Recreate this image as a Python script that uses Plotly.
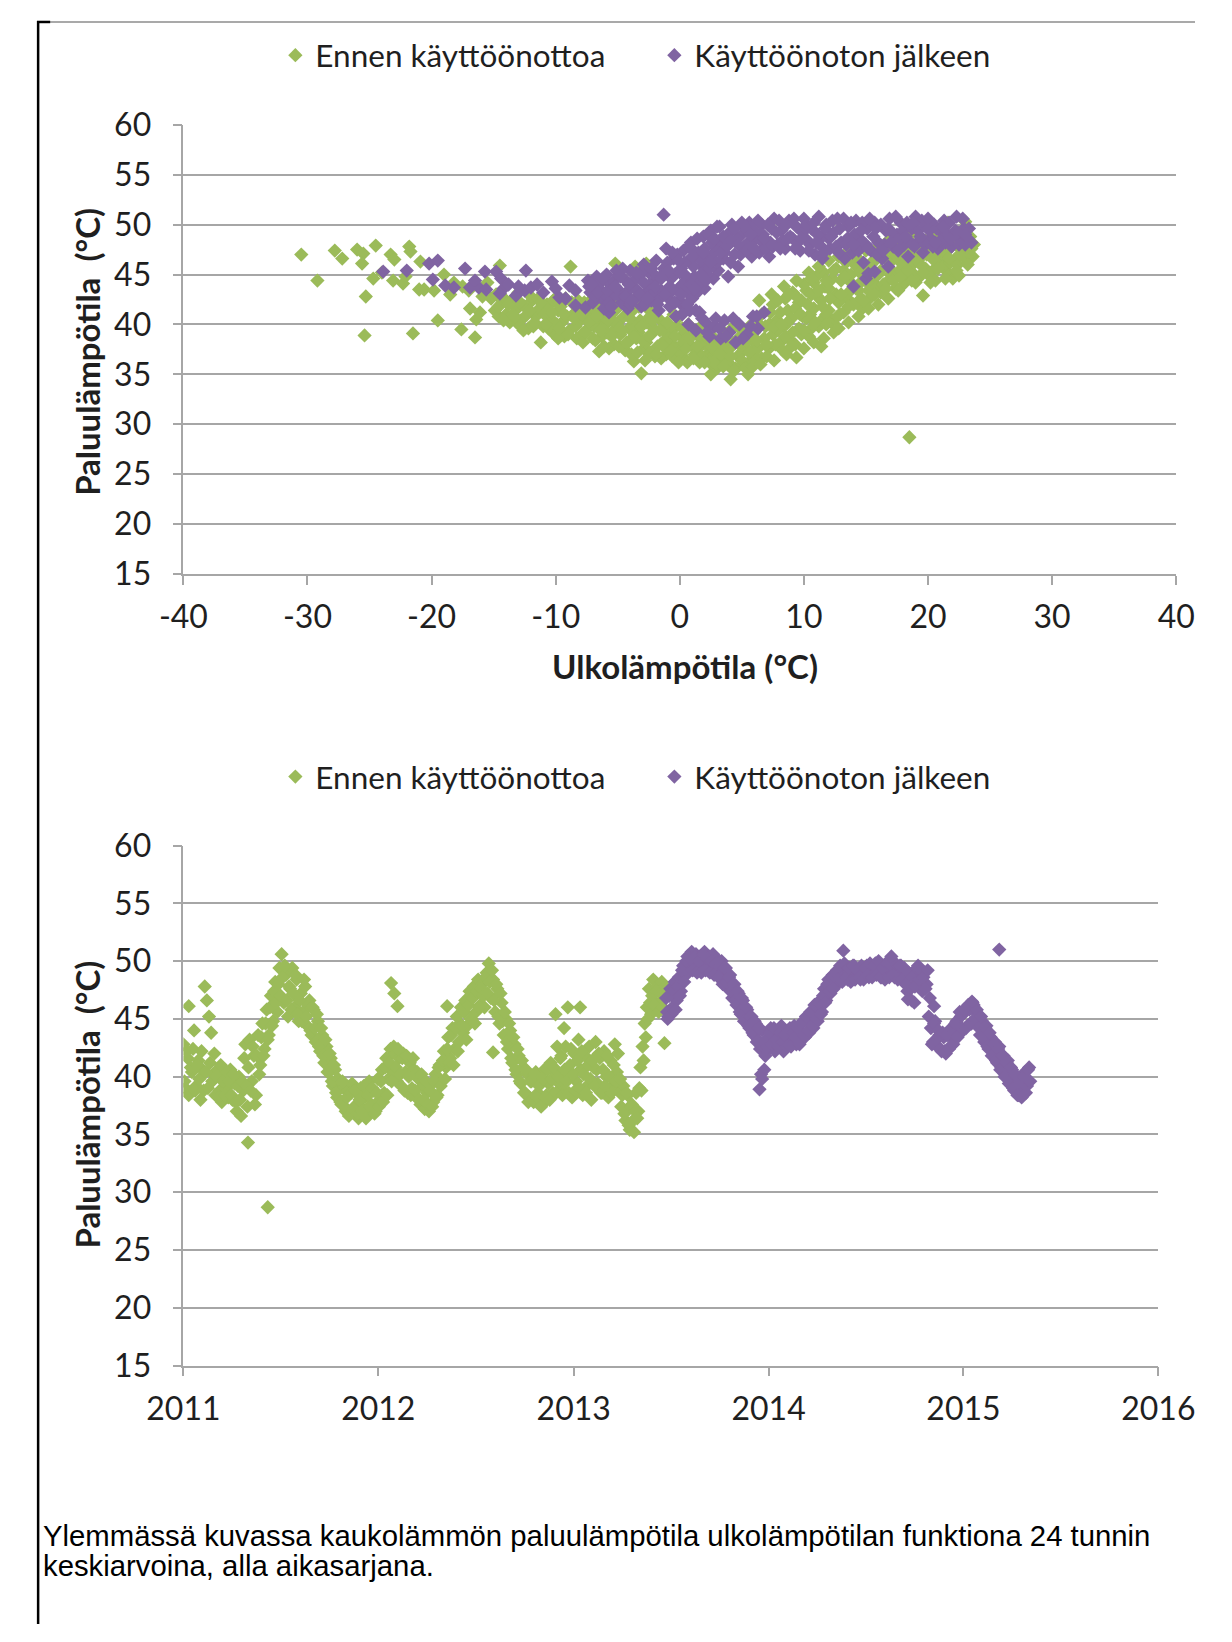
import pandas as pd
import plotly.graph_objects as go

GREEN = "#9BBB59"
PURPLE = "#8064A2"
GRID = "#A6A6A6"
TXT = "#1f1f1f"

name_before = "Ennen käyttöönottoa"
name_after = "Käyttöönoton jälkeen"
ytitle = "Paluulämpötila  (°C)"
xtitle = "Ulkolämpötila (°C)"
caption_lines = ["Ylemmässä kuvassa kaukolämmön paluulämpötila ulkolämpötilan funktiona 24 tunnin",
                 "keskiarvoina, alla aikasarjana."]
x_ticks = [-40, -30, -20, -10, 0, 10, 20, 30, 40]
x_tick_labels = ["-40", "-30", "-20", "-10", "0", "10", "20", "30", "40"]
year_labels = ["2011", "2012", "2013", "2014", "2015", "2016"]

# ---------- upper chart: outdoor temperature (x) vs return temperature (y) ----------
sc_before = [
    (-30.5, 47.0), (-29.2, 44.4), (-27.8, 47.4), (-27.2, 46.6), (-26.0, 47.5), (-25.5, 47.1),
    (-25.6, 46.1), (-25.3, 42.8), (-25.4, 38.9), (-24.5, 47.9), (-24.7, 44.6), (-23.3, 47.0),
    (-23.0, 46.5), (-23.1, 44.4), (-22.3, 44.1), (-22.1, 44.8), (-21.8, 47.8), (-21.7, 47.3),
    (-21.5, 39.1), (-20.9, 46.3), (-20.6, 43.5), (-21.0, 43.5), (-19.5, 40.4), (-18.5, 43.0),
    (-17.6, 39.5), (-16.9, 41.6), (-16.4, 40.5), (-16.5, 38.7), (-14.5, 45.9), (-18.2, 44.2),
    (-17.0, 43.4), (-15.9, 42.8), (-16.1, 41.2), (-19.0, 45.0), (-24.0, 45.2),
    (-17.5, 43.8), (-15.5, 44.2), (-19.8, 43.4),
    (-15.2, 42.6), (-14.9, 41.4), (-14.6, 40.8), (-14.3, 42.2), (-14.0, 41.0), (-13.7, 40.2),
    (-13.4, 42.6), (-13.1, 41.6), (-12.8, 40.4), (-12.5, 41.8), (-12.2, 39.6), (-11.9, 42.4),
    (-11.6, 40.8), (-11.3, 41.6), (-11.2, 38.2), (-11.0, 39.8), (-10.7, 42.0), (-10.4, 40.6),
    (-10.1, 39.0), (-9.8, 41.4), (-9.5, 40.2), (-9.2, 42.6), (-8.9, 39.4), (-8.6, 41.0),
    (-8.3, 38.6), (-8.0, 40.4), (-7.7, 42.2), (-7.4, 39.6), (-7.1, 41.6), (-6.8, 38.4),
    (-6.5, 40.6), (-6.5, 37.3), (-6.2, 42.0), (-5.9, 39.2), (-5.6, 41.0), (-5.3, 38.0),
    (-5.0, 40.2), (-4.7, 42.2), (-4.4, 37.4), (-4.1, 39.6), (-3.8, 41.4), (-3.5, 38.6),
    (-3.7, 36.3), (-3.2, 40.4), (-3.1, 35.1), (-2.9, 37.6), (-2.6, 41.6), (-2.3, 39.0),
    (-2.0, 36.8), (-1.7, 40.6), (-1.4, 38.2), (-1.1, 37.0), (-0.8, 39.6), (-0.5, 41.0),
    (-0.2, 37.6), (0.1, 38.8), (0.4, 36.6), (0.7, 40.0), (1.0, 37.8), (1.3, 39.2),
    (1.6, 36.2), (1.9, 38.4), (2.2, 37.0), (2.5, 35.0), (2.8, 38.6), (3.1, 36.4),
    (3.4, 39.4), (3.7, 37.4), (4.0, 35.8), (4.1, 34.5), (4.4, 38.2), (4.7, 36.8),
    (5.0, 39.4), (5.3, 37.6), (5.5, 35.0), (5.8, 38.6), (6.1, 36.8), (6.4, 40.0),
    (-14.8, 43.0), (-13.0, 43.2), (-12.0, 42.8), (-9.9, 40.0), (-9.3, 38.8), (-7.9, 39.0),
    (-6.0, 40.0), (-5.2, 39.6), (-4.5, 40.8), (-4.0, 38.4), (-3.3, 39.2), (-2.7, 38.2),
    (-2.4, 40.8), (-1.8, 37.8), (-1.0, 39.0), (-0.6, 38.0), (0.0, 40.8), (0.5, 39.0),
    (1.5, 37.6), (2.0, 39.6), (2.6, 36.8), (3.0, 38.0), (3.6, 36.6), (4.2, 39.6),
    (4.8, 38.0), (5.6, 39.8), (6.0, 37.6),
    (-3.6, 45.8), (-2.7, 46.1), (-5.2, 46.1), (-3.5, 45.6), (-8.8, 45.8),
    (-14.0, 42.4), (-13.5, 41.0), (-13.0, 40.0), (-12.7, 42.0), (-12.3, 41.0), (-11.8, 39.8),
    (-11.4, 42.6), (-10.9, 41.0), (-10.6, 39.6), (-10.2, 42.4), (-9.8, 38.6), (-9.6, 41.8),
    (-9.1, 40.8), (-8.7, 42.2), (-8.4, 39.8), (-8.1, 41.6), (-7.8, 38.2), (-7.5, 40.8),
    (-7.2, 42.4), (-6.9, 39.8), (-6.6, 41.8), (-6.3, 38.8), (-6.0, 41.2), (-5.7, 37.6),
    (-5.4, 40.4), (-5.1, 42.0), (-4.8, 39.0), (-4.5, 37.8), (-4.2, 41.0), (-3.9, 37.0),
    (-3.6, 39.8), (-3.3, 41.8), (-3.0, 38.4), (-2.7, 40.2), (-2.4, 37.2), (-2.1, 39.6),
    (-1.8, 41.4), (-1.5, 36.6), (-1.2, 40.0), (-0.9, 38.6), (-0.6, 36.8), (-0.3, 39.8),
    (0.0, 37.2), (0.3, 38.2), (0.6, 36.2), (0.9, 39.4), (1.2, 37.0), (1.5, 38.8),
    (1.8, 36.8), (2.1, 38.0), (2.4, 36.2), (2.7, 37.6), (3.0, 35.6), (3.3, 37.0),
    (3.6, 38.6), (3.9, 36.2), (4.2, 37.8), (4.5, 35.6), (4.8, 37.0), (5.1, 36.0),
    (5.4, 38.2), (5.7, 36.4), (6.0, 39.2), (6.3, 37.6), (6.6, 36.6), (6.9, 39.8),
    (7.2, 37.6), (7.5, 39.0), (7.8, 40.4), (8.1, 38.2), (8.4, 39.8), (8.7, 41.4),
    (9.0, 40.6), (9.3, 38.0), (9.6, 42.2), (9.9, 40.8), (10.2, 43.4), (10.5, 41.0),
    (10.8, 44.2), (11.1, 42.8), (11.4, 40.4), (11.7, 43.8), (12.0, 41.4), (12.3, 44.6),
    (12.6, 43.0), (12.9, 41.0), (13.2, 45.4), (13.5, 42.6), (13.8, 44.2), (14.1, 46.0),
    (14.4, 43.4), (14.7, 41.6), (15.0, 45.8), (15.3, 42.6), (15.6, 44.2), (15.9, 46.6),
    (16.2, 43.2), (16.5, 47.4), (16.8, 44.4), (17.1, 46.4), (17.4, 48.2), (17.7, 45.4),
    (18.0, 44.0), (18.3, 46.0), (18.6, 47.8), (18.9, 45.0), (19.2, 44.6), (19.5, 46.8),
    (19.8, 45.6), (20.1, 47.6), (20.4, 45.4), (20.7, 49.2), (21.0, 46.4), (21.3, 48.4),
    (21.6, 45.2), (21.9, 47.8), (22.2, 46.6), (22.5, 49.2), (22.8, 48.0), (23.1, 47.8),
    (23.4, 48.8), (23.6, 46.8),
    (6.6, 41.0), (6.8, 38.6), (7.0, 36.8), (7.2, 40.0), (7.5, 42.0), (7.7, 38.0),
    (7.9, 39.4), (8.1, 41.2), (8.3, 37.4), (8.5, 42.6), (8.7, 40.2), (8.9, 38.4),
    (9.1, 43.2), (9.3, 41.6), (9.4, 36.7), (9.6, 39.6), (9.8, 42.4), (10.0, 44.0),
    (10.2, 40.6), (10.4, 38.8), (10.6, 43.0), (10.8, 41.6), (11.0, 44.8), (11.2, 39.8),
    (11.4, 42.4), (11.6, 45.2), (11.8, 41.0), (12.0, 43.6), (12.2, 40.2), (12.4, 39.2),
    (12.6, 45.6), (12.8, 42.2), (13.0, 44.4), (13.2, 41.2), (13.4, 46.2), (13.6, 43.2),
    (13.8, 45.0), (14.0, 42.0), (14.2, 46.8), (14.4, 44.0), (14.6, 42.6), (14.8, 45.6),
    (15.0, 47.4), (15.2, 43.4), (15.4, 44.8), (15.6, 46.4), (15.8, 43.8), (16.0, 47.8),
    (16.2, 45.4), (16.4, 44.0), (16.6, 46.6), (16.8, 48.4), (17.0, 45.0), (17.2, 47.2),
    (17.4, 43.6), (17.6, 43.4), (17.8, 46.2), (18.0, 48.6), (18.2, 44.6), (18.4, 47.0),
    (18.6, 45.8), (18.5, 28.7), (18.8, 49.2), (19.0, 44.2), (19.2, 47.6), (19.4, 46.0),
    (19.6, 42.9), (19.8, 48.4), (20.0, 45.0), (20.2, 50.0), (20.4, 46.8), (20.6, 44.4),
    (20.8, 48.0), (21.0, 49.6), (21.2, 45.8), (21.4, 47.2), (21.6, 50.2), (21.8, 46.2),
    (22.0, 44.6), (22.2, 48.6), (22.5, 44.9), (22.7, 47.4), (23.0, 50.3), (23.0, 46.6),
    (23.2, 48.6), (23.4, 47.0), (23.7, 48.0), (22.4, 46.0),
    (6.4, 42.4), (7.4, 43.0), (8.4, 43.8), (9.4, 44.4), (10.4, 45.2), (11.2, 45.8),
    (12.0, 46.4), (12.8, 46.8), (13.6, 47.4), (14.4, 47.8),
    (7.6, 36.4), (8.6, 37.0), (9.0, 37.8), (10.0, 37.6), (10.8, 38.2), (11.6, 38.6),
    (11.4, 37.8), (12.8, 39.6), (13.6, 40.2), (14.4, 40.8), (15.2, 41.6), (16.0, 42.0),
    (16.8, 42.6), (10.6, 39.6), (11.8, 40.0), (9.8, 39.0),
    (-14.6, 41.8), (-14.2, 40.4), (-13.8, 42.0), (-13.3, 40.8), (-12.9, 42.2), (-12.6, 39.4),
    (-12.1, 41.4), (-11.7, 40.2), (-11.2, 42.2), (-10.8, 40.0), (-10.3, 41.2), (-10.0, 42.6),
    (-9.7, 39.6), (-9.3, 41.0), (-9.0, 39.0), (-8.5, 40.6), (-8.2, 42.4), (-7.9, 41.0),
    (-7.6, 39.2), (-7.3, 40.2), (-7.0, 38.6), (-6.7, 40.8), (-6.4, 39.4), (-6.1, 37.8),
    (-5.8, 40.4), (-5.5, 38.8), (-5.2, 41.4), (-4.9, 37.8), (-4.6, 39.4), (-4.3, 38.2),
    (-4.0, 40.6), (-3.7, 38.8), (-3.4, 37.2), (-3.1, 39.8), (-2.8, 36.4), (-2.5, 38.8),
    (-2.2, 40.4), (-1.9, 37.0), (-1.6, 39.4), (-1.3, 37.8), (-1.0, 40.2), (-0.7, 37.4),
    (-0.4, 38.8), (-0.1, 36.2), (0.2, 39.6), (0.5, 37.6), (0.8, 38.6), (1.1, 36.6),
    (1.4, 37.8), (1.7, 39.8), (2.0, 36.2), (2.3, 38.6), (2.6, 37.8), (2.9, 36.0),
    (3.2, 38.2), (3.5, 35.8), (3.8, 37.8), (4.1, 36.8), (4.4, 35.4), (4.7, 38.6),
    (5.0, 36.4), (5.3, 35.6), (5.6, 37.2), (5.9, 35.8), (6.2, 38.4), (6.5, 36.0),
    (7.0, 38.0), (7.3, 41.2), (7.6, 39.8), (7.9, 42.4), (8.2, 40.0), (8.5, 38.8),
    (8.8, 43.0), (9.1, 39.2), (9.4, 42.8), (9.7, 41.0), (10.0, 39.4), (10.3, 42.0),
    (10.6, 44.6), (10.9, 40.2), (11.2, 43.4), (11.5, 41.8), (11.8, 44.4), (12.1, 42.6),
    (12.4, 45.4), (12.7, 40.8), (13.0, 43.0), (13.3, 44.8), (13.6, 41.8), (13.9, 46.6),
    (14.2, 43.6), (14.5, 45.2), (14.8, 42.4), (15.1, 44.2), (15.4, 46.0), (15.7, 43.0),
    (16.0, 45.0), (16.3, 46.8), (16.6, 43.6), (16.9, 45.6), (17.2, 44.4), (17.5, 46.8),
    (17.8, 44.8), (18.1, 47.4), (18.4, 45.4), (18.7, 44.4), (19.0, 46.6), (19.3, 48.2),
    (19.6, 45.2), (19.9, 47.0), (20.2, 44.2), (20.5, 46.4), (20.8, 45.6), (21.1, 47.4),
    (21.4, 44.6), (21.7, 46.6), (22.0, 48.0), (22.3, 45.4), (22.6, 47.0), (22.9, 49.0),
    (23.2, 46.0), (23.5, 47.6),
]

sc_after = [
    (-23.9, 45.3), (-22.0, 45.4), (-20.2, 46.1), (-19.5, 46.4), (-19.9, 44.5), (-18.9, 43.9),
    (-18.2, 43.7), (-17.3, 45.6), (-16.9, 43.7), (-16.2, 43.7), (-15.7, 45.3), (-15.6, 43.5),
    (-14.8, 45.3), (-14.4, 44.6), (-14.2, 43.6), (-14.5, 43.1), (-13.2, 42.9), (-12.5, 43.4),
    (-12.4, 45.4), (-12.0, 43.7), (-10.3, 44.3), (-9.7, 42.7), (-8.9, 43.9), (-8.4, 43.4),
    (-8.4, 41.9), (-7.6, 41.7), (-5.7, 41.2), (-13.8, 44.0), (-11.0, 43.2),
    (-7.4, 44.4), (-7.2, 43.2), (-7.0, 42.2), (-6.7, 44.8), (-6.5, 43.6), (-6.3, 42.6),
    (-6.1, 41.6), (-5.9, 45.0), (-5.6, 44.0), (-5.4, 42.8), (-5.1, 45.4), (-4.9, 43.4),
    (-4.7, 42.2), (-4.5, 44.6), (-4.2, 41.6), (-4.0, 45.4), (-3.8, 43.8), (-3.6, 42.6),
    (-3.3, 44.8), (-3.1, 41.8), (-2.9, 46.0), (-2.7, 43.2), (-2.5, 45.2), (-2.3, 42.4),
    (-2.1, 44.2), (-1.9, 46.4), (-1.7, 41.4), (-1.5, 43.4), (-1.3, 45.6), (-1.3, 51.0),
    (-1.1, 47.6), (-0.9, 42.6), (-0.7, 44.6), (-0.5, 46.6), (-0.3, 40.8), (-0.1, 43.6),
    (0.1, 45.6), (0.3, 47.4), (0.3, 41.8), (0.5, 44.4), (0.7, 40.0), (0.8, 46.4),
    (0.9, 48.2), (1.0, 42.6), (1.2, 44.8), (1.3, 39.4), (1.5, 47.2), (1.6, 41.2),
    (1.8, 45.8), (1.9, 48.8), (2.0, 43.6), (2.1, 40.2), (2.3, 46.6), (2.4, 38.8),
    (2.5, 49.4), (2.7, 44.6), (2.8, 39.8), (2.9, 47.8), (3.1, 45.4), (3.2, 49.8),
    (3.3, 38.6), (3.5, 46.6), (3.6, 40.4), (3.8, 48.6), (3.9, 44.8), (4.0, 39.2),
    (4.2, 50.0), (4.4, 47.0), (4.5, 38.2), (4.7, 45.8), (4.8, 40.0), (5.0, 49.0),
    (5.2, 47.8), (5.4, 39.0), (5.6, 50.2), (5.8, 46.8), (5.9, 40.8), (6.1, 48.6),
    (6.3, 39.6), (6.4, 47.2), (6.6, 50.0), (6.8, 41.2), (7.0, 48.4), (7.2, 46.8),
    (7.4, 49.6), (7.6, 50.6), (7.9, 48.0), (8.2, 49.4), (8.5, 47.6), (8.8, 50.4),
    (9.1, 48.6), (9.4, 49.8), (9.7, 47.4), (10.0, 50.6), (10.3, 48.4), (10.6, 49.6),
    (10.9, 47.0), (11.2, 50.8), (11.5, 46.6), (11.5, 48.8), (11.8, 50.0), (12.1, 47.6),
    (12.4, 49.2), (12.7, 50.6), (13.0, 48.2), (13.3, 46.6), (13.6, 49.8), (13.9, 47.2),
    (14.0, 43.8), (14.2, 50.4), (14.5, 48.6), (14.8, 46.2), (15.0, 44.6), (15.2, 45.1),
    (15.1, 49.6), (15.4, 47.4), (15.7, 50.2), (15.7, 45.3), (16.0, 48.2), (16.3, 46.6),
    (16.6, 49.4), (16.8, 45.8), (16.9, 50.6), (17.2, 47.8), (17.5, 49.0), (17.8, 50.2),
    (18.1, 48.0), (18.4, 46.8), (18.7, 49.6), (19.0, 50.8), (19.3, 48.4), (19.6, 47.2),
    (19.9, 49.8), (20.2, 48.6), (20.5, 50.0), (20.8, 47.6), (21.1, 49.2), (21.4, 48.2),
    (21.7, 50.2), (22.0, 49.0), (22.3, 50.8), (22.6, 48.4), (22.9, 49.6), (23.2, 48.6),
    (23.5, 48.2), (22.8, 50.6),
    (-0.4, 45.0), (0.0, 42.4), (0.6, 43.2), (1.1, 45.8), (1.4, 43.2), (1.7, 46.4),
    (2.2, 45.0), (2.6, 47.0), (0.2, 44.0), (-0.8, 43.8),
    (-7.3, 43.8), (-6.8, 42.8), (-6.4, 44.2), (-6.0, 43.0), (-5.7, 42.2), (-5.3, 44.4),
    (-5.0, 43.0), (-4.6, 45.6), (-4.3, 43.2), (-4.0, 42.0), (-3.7, 44.4), (-3.4, 43.4),
    (-3.0, 45.4), (-2.8, 42.0), (-2.4, 44.0), (-2.2, 43.0), (-1.9, 44.8), (-1.6, 42.6),
    (-1.4, 45.0), (-1.0, 46.2), (-0.8, 41.8), (-0.6, 43.4), (-0.2, 47.0), (0.0, 45.2),
    (0.2, 41.0), (0.4, 46.2), (0.6, 42.0), (0.9, 44.0), (1.1, 47.4), (1.3, 41.4),
    (1.6, 44.2), (1.8, 40.6), (2.0, 47.6), (2.2, 39.2), (2.4, 45.6), (2.6, 48.2),
    (2.9, 40.6), (3.0, 46.2), (3.2, 39.6), (3.4, 48.2), (3.6, 47.2), (3.7, 38.8),
    (4.0, 49.2), (4.1, 46.2), (4.3, 40.6), (4.6, 48.6), (4.9, 47.0), (5.1, 38.6),
    (5.3, 49.6), (5.5, 48.2), (5.7, 39.8), (6.0, 49.4), (6.2, 40.8), (6.5, 48.4),
    (6.7, 49.0), (6.9, 47.6), (7.1, 50.0), (7.3, 48.2), (7.8, 49.2), (8.0, 50.4),
    (8.3, 48.4), (8.6, 50.0), (8.9, 48.8), (9.2, 50.6), (9.5, 48.2), (9.9, 49.2),
    (10.2, 50.0), (10.5, 48.0), (10.8, 50.2), (11.1, 49.0), (11.4, 47.8), (11.7, 49.6),
    (12.0, 48.6), (12.3, 50.4), (12.6, 47.8), (12.9, 49.6), (13.2, 50.6), (13.5, 48.6),
    (13.8, 50.2), (14.1, 49.0), (14.4, 47.4), (14.7, 50.2), (15.0, 48.0), (15.3, 50.6),
    (15.6, 48.8), (15.9, 47.0), (16.2, 50.0), (16.5, 48.0), (16.8, 49.6), (17.1, 49.2),
    (17.4, 50.8), (17.7, 48.6), (18.0, 49.4), (18.3, 50.2), (18.6, 48.2), (18.9, 47.8),
    (19.2, 49.4), (19.5, 50.4), (19.8, 48.0), (20.1, 49.4), (20.4, 47.8), (20.7, 49.6),
    (21.0, 48.4), (21.3, 50.4), (21.6, 49.0), (21.9, 47.8), (22.2, 49.4), (22.5, 48.0),
    (23.0, 48.0), (23.3, 49.6),
    (-7.1, 44.0), (-6.6, 43.2), (-6.2, 44.6), (-5.8, 43.4), (-5.5, 41.8), (-5.2, 43.8),
    (-4.8, 44.8), (-4.4, 42.8), (-4.1, 44.0), (-3.9, 42.4), (-3.5, 45.2), (-3.2, 43.0),
    (-2.9, 44.2), (-2.6, 42.6), (-2.3, 45.6), (-2.0, 43.8), (-1.8, 42.0), (-1.5, 44.6),
    (-1.2, 43.0), (-0.9, 45.4), (-0.6, 47.2), (-0.4, 42.2), (-0.1, 46.4), (0.1, 43.0),
    (0.4, 45.0), (0.7, 47.8), (0.8, 41.4), (1.0, 46.8), (1.2, 43.6), (1.4, 48.6),
    (1.7, 45.0), (1.9, 47.2), (2.1, 44.4), (2.3, 49.0), (2.5, 46.2), (2.8, 48.6),
    (3.0, 49.8), (3.3, 47.2), (3.5, 48.8), (3.8, 47.8), (4.1, 48.4), (4.4, 49.6),
    (4.7, 48.0), (5.0, 50.2), (5.4, 47.4), (5.7, 49.0), (6.0, 47.6), (6.3, 50.4),
    (6.8, 48.6), (7.5, 47.8), (8.1, 47.6), (8.7, 48.6), (9.3, 47.6), (9.8, 48.6),
    (10.4, 47.4), (11.0, 48.2), (11.6, 47.2), (12.2, 48.8), (12.8, 47.2), (13.4, 48.0),
    (14.0, 48.0), (14.6, 49.4), (15.2, 47.6), (15.8, 49.6), (16.4, 47.4), (17.0, 48.2),
    (17.6, 47.4), (18.2, 48.8), (18.8, 50.2), (19.4, 48.8), (20.0, 50.6), (20.6, 48.2),
    (21.2, 49.8), (21.8, 48.6), (22.4, 49.2), (23.0, 49.0), (-10.0, 43.6), (-11.5, 44.0),
    (-9.2, 42.6), (-13.0, 43.8), (-16.5, 44.4),
]

# ---------- lower chart: time series (two interleaved readings every 4 days) ----------
ts_before_start_a = "2011-01-01"
ts_before_a = [
    42.8, 39.0, 41.6, 38.6, 40.4, 44.0, 39.2, 41.4, 38.0, 40.6,
    47.8, 46.6, 45.2, 43.8, 40.2, 38.4, 40.6, 38.8, 37.8, 40.2,
    39.0, 38.2, 40.6, 38.0, 39.4, 37.0, 40.0, 36.6, 38.8, 42.8,
    37.4, 43.2, 39.6, 41.8, 38.4, 43.6, 41.0, 44.6, 42.4, 45.8,
    43.6, 47.0, 44.8, 48.2, 45.6, 49.4, 50.6, 46.4, 48.8, 45.2,
    47.6, 49.4, 46.0, 48.4, 44.8, 47.2, 45.6, 47.8, 44.4, 46.6,
    43.6, 45.8, 43.0, 44.8, 42.2, 43.6, 41.2, 42.6, 40.4, 41.6,
    39.2, 40.6, 38.2, 39.6, 37.6, 39.0, 37.0, 38.8, 36.8, 39.4,
    37.4, 38.6, 36.4, 39.0, 37.2, 38.2, 36.6, 39.6, 37.6, 38.8,
    37.0, 39.8, 38.0, 40.6, 38.6, 41.6, 39.8, 42.4, 40.4, 42.0,
    39.6, 41.6, 39.2, 42.0, 40.4, 38.6, 41.2, 39.0, 40.6, 38.2,
    39.8, 37.6, 39.2, 37.2, 38.6, 37.0, 39.4, 37.8, 40.2, 38.4,
    41.0, 39.6, 42.2, 40.8, 43.4, 41.6, 44.2, 42.4, 45.2, 43.0,
    46.0, 43.8, 46.6, 44.4, 47.4, 45.0, 47.8, 45.6, 48.4, 46.2,
    48.0, 46.0, 49.0, 49.8, 46.8, 48.4, 45.6, 47.6, 44.6, 46.4,
    43.6, 45.0, 42.4, 44.0, 41.2, 42.8, 40.2, 41.8, 39.4, 40.8,
    38.6, 40.2, 38.2, 39.6, 37.8, 40.4, 38.6, 39.8, 37.6, 40.6,
    38.4, 39.4, 41.2, 38.6, 40.4, 42.6, 39.4, 41.8, 38.8, 42.6,
    40.2, 41.0, 38.2, 42.0, 39.6, 43.2, 40.6, 38.4, 41.8, 39.2,
    42.6, 38.0, 40.8, 43.0, 39.4, 41.6, 38.6, 42.2, 40.0, 38.2,
    41.4, 39.2, 42.8, 40.4, 38.8, 37.4, 39.2, 36.2, 38.4, 35.4,
    37.6, 35.2, 38.6, 37.0, 40.8, 42.6, 44.6, 46.0, 47.6, 45.4,
    48.4, 46.4, 47.8, 45.8, 48.2, 46.8,
]
ts_before_start_b = "2011-01-03"
ts_before_b = [
    39.6, 42.2, 38.4, 40.8, 42.4, 38.8, 41.0, 39.8, 42.2, 38.8,
    40.4, 39.0, 41.2, 39.6, 42.0, 40.0, 38.2, 41.0, 39.6, 38.4,
    40.4, 39.6, 38.4, 40.2, 37.8, 39.2, 38.0, 39.6, 41.6, 39.2,
    40.8, 38.8, 42.6, 37.6, 41.8, 40.2, 43.4, 41.8, 44.6, 43.2,
    46.0, 44.4, 47.4, 46.4, 48.0, 47.0, 48.6, 49.6, 46.6, 47.8,
    45.8, 47.2, 48.8, 45.4, 46.6, 44.8, 48.4, 45.2, 46.2, 44.0,
    46.0, 44.2, 45.4, 42.6, 44.2, 41.8, 43.2, 40.4, 42.0, 39.6,
    41.0, 38.6, 39.8, 37.8, 39.6, 37.4, 38.2, 36.6, 38.6, 37.2,
    38.8, 36.8, 38.0, 37.0, 39.2, 36.4, 38.4, 37.4, 39.0, 36.8,
    38.6, 37.4, 39.6, 37.8, 40.8, 38.4, 41.2, 39.6, 42.6, 40.8,
    42.4, 40.2, 41.6, 38.8, 41.8, 40.0, 38.4, 41.6, 38.8, 40.4,
    38.0, 40.2, 38.0, 39.6, 37.6, 38.8, 37.4, 39.6, 38.2, 40.8,
    39.2, 41.4, 39.8, 42.4, 41.2, 43.6, 41.0, 44.2, 42.2, 44.6,
    44.4, 45.6, 43.2, 46.2, 45.0, 46.8, 44.6, 47.4, 46.0, 47.6,
    47.0, 48.6, 47.2, 48.2, 49.2, 46.6, 48.0, 45.2, 47.2, 44.8,
    45.6, 43.0, 44.6, 41.6, 43.4, 40.6, 42.4, 39.6, 41.4, 38.6,
    40.6, 37.8, 39.6, 38.0, 40.2, 38.2, 39.2, 37.4, 39.8, 38.2,
    40.6, 38.0, 39.8, 40.8, 38.6, 40.0, 41.6, 38.4, 40.6, 39.6,
    38.6, 42.4, 40.2, 38.8, 41.4, 39.0, 42.2, 40.2, 38.6, 41.0,
    39.8, 41.4, 39.2, 40.6, 42.0, 38.6, 40.6, 39.2, 41.8, 40.0,
    38.6, 41.0, 39.6, 42.0, 39.8, 38.4, 36.8, 38.6, 35.8, 37.4,
    36.2, 37.0, 36.4, 39.0, 38.8, 41.4, 43.4, 45.0, 46.4, 47.0,
    46.2, 47.4, 45.6, 47.2, 46.0, 47.8,
]
ts_before_extra_days = [10, 121, 158, 389, 395, 401, 494, 580, 697, 713, 720, 743, 901]
ts_before_extra_vals = [46.1, 34.3, 28.7, 48.1, 47.2, 46.1, 46.1, 42.1, 45.4, 44.2, 46.0, 46.0, 42.9]

ts_after_start_a = "2013-06-23"
ts_after_a = [
    46.8, 45.2, 47.6, 46.0, 48.2, 46.6, 48.6, 47.4, 49.6, 48.8,
    50.4, 49.4, 50.8, 49.8, 50.6, 49.2, 50.4, 49.6, 50.8, 49.8,
    50.4, 49.2, 50.6, 49.4, 50.2, 48.8, 50.0, 48.4, 49.4, 47.6,
    48.8, 46.8, 48.0, 46.2, 47.2, 45.4, 46.6, 44.8, 45.8, 44.2,
    45.2, 43.6, 44.6, 43.2, 42.4, 44.0, 40.6, 43.2, 42.4, 44.2,
    43.0, 42.2, 43.8, 42.6, 44.4, 42.2, 43.6, 42.8, 44.2, 43.0,
    44.4, 42.8, 44.0, 43.2, 44.8, 43.4, 45.0, 43.8, 45.4, 44.2,
    46.0, 44.8, 46.6, 45.6, 47.6, 46.6, 48.4, 47.2, 48.8, 47.8,
    49.2, 48.2, 49.4, 48.6, 49.6, 48.4, 49.4, 48.8, 49.6, 48.6,
    49.2, 48.4, 49.4, 48.8, 49.6, 48.6, 49.4, 48.8, 49.8, 49.0,
    49.6, 48.6, 49.2, 48.8, 50.0, 49.2, 49.8, 48.6, 49.4, 48.8,
    49.6, 48.2, 49.2, 47.4, 48.8, 46.6, 49.0, 48.0, 49.6, 48.2,
    47.4, 49.0, 48.0, 45.2, 44.2, 43.0, 44.8, 42.6, 43.6, 42.2,
    43.4, 42.0, 43.6, 42.6, 44.0, 43.2, 44.8, 43.6, 45.2, 44.0,
    45.6, 44.4, 45.8, 44.6, 46.2, 44.8, 45.4, 43.6, 44.8, 43.0,
    44.4, 42.4, 43.4, 41.8, 43.0, 41.2, 42.6, 40.8, 41.8, 40.2,
    41.4, 39.6, 40.6, 38.8, 40.0, 38.4, 39.6, 38.8, 40.4, 39.2,
    40.8,
]
ts_after_start_b = "2013-06-25"
ts_after_b = [
    45.6, 47.0, 45.4, 47.4, 45.8, 47.8, 47.0, 49.2, 48.2, 50.0,
    49.0, 50.2, 49.2, 50.4, 49.0, 50.0, 49.0, 50.6, 49.2, 50.2,
    49.0, 50.0, 48.8, 49.8, 48.6, 49.6, 48.0, 49.4, 48.2, 48.6,
    47.4, 48.0, 46.6, 47.4, 45.6, 46.8, 44.8, 46.0, 44.4, 45.2,
    43.8, 44.8, 43.0, 44.2, 40.2, 42.6, 41.8, 42.6, 43.8, 42.8,
    44.2, 43.2, 42.6, 43.8, 43.0, 43.6, 42.6, 44.0, 42.6, 43.8,
    43.4, 44.2, 42.8, 44.6, 43.6, 45.2, 44.0, 45.6, 44.4, 46.2,
    45.0, 46.4, 45.4, 47.0, 46.4, 48.0, 47.4, 48.6, 47.6, 49.0,
    48.4, 49.6, 48.2, 49.8, 48.6, 49.4, 48.2, 49.6, 48.4, 49.2,
    48.6, 49.6, 48.4, 49.4, 48.8, 49.8, 48.6, 49.6, 48.8, 50.0,
    48.6, 49.4, 48.4, 49.8, 48.6, 49.6, 48.8, 49.8, 48.4, 49.6,
    48.4, 49.4, 48.0, 49.0, 47.6, 48.6, 47.8, 49.4, 48.4, 49.2,
    48.6, 47.6, 49.2, 46.8, 42.8, 44.6, 43.2, 44.0, 42.4, 43.8,
    42.2, 43.6, 42.4, 44.2, 42.8, 44.6, 43.4, 45.6, 44.2, 45.8,
    44.2, 46.2, 44.6, 46.4, 45.0, 45.8, 44.2, 45.2, 43.4, 44.2,
    42.6, 43.8, 41.8, 42.8, 41.4, 42.4, 40.6, 41.8, 40.0, 41.2,
    39.4, 40.8, 39.0, 40.2, 38.4, 39.6, 38.2, 40.0, 38.6, 40.6,
    39.6,
]
ts_after_extra_days = [907, 1079, 1084, 1236, 1326, 1357, 1369, 1406, 1477, 1528]
ts_after_extra_vals = [45.0, 38.9, 39.8, 50.9, 50.4, 46.7, 46.4, 46.1, 46.5, 51.0]

# ---------- build plotting tables ----------
origin = pd.Timestamp("2011-01-01")


def series(start_a, vals_a, start_b, vals_b, extra_days, extra_vals):
    dates = list(pd.date_range(start_a, periods=len(vals_a), freq="4D"))
    dates += list(pd.date_range(start_b, periods=len(vals_b), freq="4D"))
    dates += [origin + pd.Timedelta(days=d) for d in extra_days]
    return dates, list(vals_a) + list(vals_b) + list(extra_vals)


before_dates, before_vals = series(ts_before_start_a, ts_before_a, ts_before_start_b, ts_before_b,
                                   ts_before_extra_days, ts_before_extra_vals)
after_dates, after_vals = series(ts_after_start_a, ts_after_a, ts_after_start_b, ts_after_b,
                                 ts_after_extra_days, ts_after_extra_vals)

# ---------- layout geometry ----------
W, H = 1232, 1642
# map target picture pixels to page pixels (the photographed page lands slightly inset)
AX, AY, SX, SY = 36.5, 20.0, 0.9407, 0.978


def px(xr):
    return min(max((xr - AX) / SX / W, 0.0), 1.0)


def py(yr):
    return min(max(1 - (yr - AY) / SY / H, 0.0), 1.0)


FONT = "Lato, Carlito, sans-serif"
TICKFONT = dict(family=FONT, size=32, color=TXT)
MS = 11

fig = go.Figure()
fig.add_trace(go.Scatter(x=[p[0] for p in sc_before], y=[p[1] for p in sc_before], mode="markers",
                         name=name_before, marker=dict(symbol="diamond", size=MS, color=GREEN),
                         xaxis="x", yaxis="y", legend="legend"))
fig.add_trace(go.Scatter(x=[p[0] for p in sc_after], y=[p[1] for p in sc_after], mode="markers",
                         name=name_after, marker=dict(symbol="diamond", size=MS, color=PURPLE),
                         xaxis="x", yaxis="y", legend="legend"))
fig.add_trace(go.Scatter(x=before_dates, y=before_vals, mode="markers", name=name_before,
                         marker=dict(symbol="diamond", size=MS, color=GREEN),
                         xaxis="x2", yaxis="y2", legend="legend2"))
fig.add_trace(go.Scatter(x=after_dates, y=after_vals, mode="markers", name=name_after,
                         marker=dict(symbol="diamond", size=MS, color=PURPLE),
                         xaxis="x2", yaxis="y2", legend="legend2"))

common_y = dict(range=[15, 60], dtick=5, tick0=15, showgrid=True, gridcolor=GRID, gridwidth=1.5,
                showline=True, linecolor=GRID, linewidth=1.5, ticks="outside", ticklen=9,
                tickcolor=GRID, tickwidth=1.5, tickfont=TICKFONT, zeroline=False,
                ticklabelstandoff=15, fixedrange=True)
common_x = dict(showgrid=False, zeroline=False, showline=True, linecolor=GRID, linewidth=1.5,
                ticks="outside", ticklen=9, tickcolor=GRID, tickwidth=1.5, tickfont=TICKFONT,
                ticklabelstandoff=5, fixedrange=True)

legend_common = dict(orientation="h", font=dict(family=FONT, size=31.5, color=TXT),
                     bgcolor="rgba(0,0,0,0)", xanchor="left", yanchor="middle",
                     entrywidth=334, entrywidthmode="pixels", itemsizing="trace")

fig.update_layout(
    width=W, height=H, margin=dict(l=0, r=0, t=0, b=0),
    paper_bgcolor="white", plot_bgcolor="white", hovermode=False,
    xaxis=dict(domain=[px(183), 1212 / W], anchor="y", range=[-40, 40], tickmode="array",
               tickvals=x_ticks, ticktext=x_tick_labels, **common_x),
    yaxis=dict(domain=[py(574), py(124)], anchor="x", **common_y),
    xaxis2=dict(domain=[px(183), 1193 / W], anchor="y2", type="date",
                range=["2011-01-01", "2016-01-01"], tickmode="array",
                tickvals=[f"{y}-01-01" for y in year_labels], ticktext=year_labels, **common_x),
    yaxis2=dict(domain=[py(1367), py(846)], anchor="x2", **common_y),
    legend=dict(x=253.6 / W, y=1 - 35.0 / H, **legend_common),
    legend2=dict(x=253.6 / W, y=1 - 774.0 / H, **legend_common),
    showlegend=True,
)

TITLEFONT = dict(family=FONT, size=33, color=TXT)
fig.add_annotation(text=f"<b>{ytitle}</b>", xref="paper", yref="paper", x=px(87), y=py(351),
                   textangle=-90, showarrow=False, font=TITLEFONT, xanchor="center", yanchor="middle")
fig.add_annotation(text=f"<b>{ytitle}</b>", xref="paper", yref="paper", x=px(87), y=py(1105),
                   textangle=-90, showarrow=False, font=TITLEFONT, xanchor="center", yanchor="middle")
fig.add_annotation(text=f"<b>{xtitle}</b>", xref="paper", yref="paper", x=px(685), y=py(666),
                   showarrow=False, font=TITLEFONT, xanchor="center", yanchor="middle")
for i, line in enumerate(caption_lines):
    fig.add_annotation(text=line, xref="paper", yref="paper", x=5 / W, y=py(1537 + 30 * i),
                       showarrow=False, align="left", xanchor="left", yanchor="middle", borderpad=0,
                       font=dict(family="Liberation Sans, Arial, sans-serif", size=29.3, color="#000000"))

# page frame
fig.add_shape(type="line", xref="paper", yref="paper", x0=1 / W, x1=1.0, y0=1 - 1 / H, y1=1 - 1 / H,
              line=dict(color="#555555", width=1.2))
fig.add_shape(type="line", xref="paper", yref="paper", x0=1.2 / W, x1=1.2 / W, y0=0, y1=1.0,
              line=dict(color="#000000", width=2.5))
fig.add_shape(type="line", xref="paper", yref="paper", x0=0, x1=14 / W, y0=1 - 1 / H, y1=1 - 1 / H,
              line=dict(color="#000000", width=2.5))

fig.write_html("out.html", config={"displayModeBar": False},
               post_script="document.body.style.margin='0';")
